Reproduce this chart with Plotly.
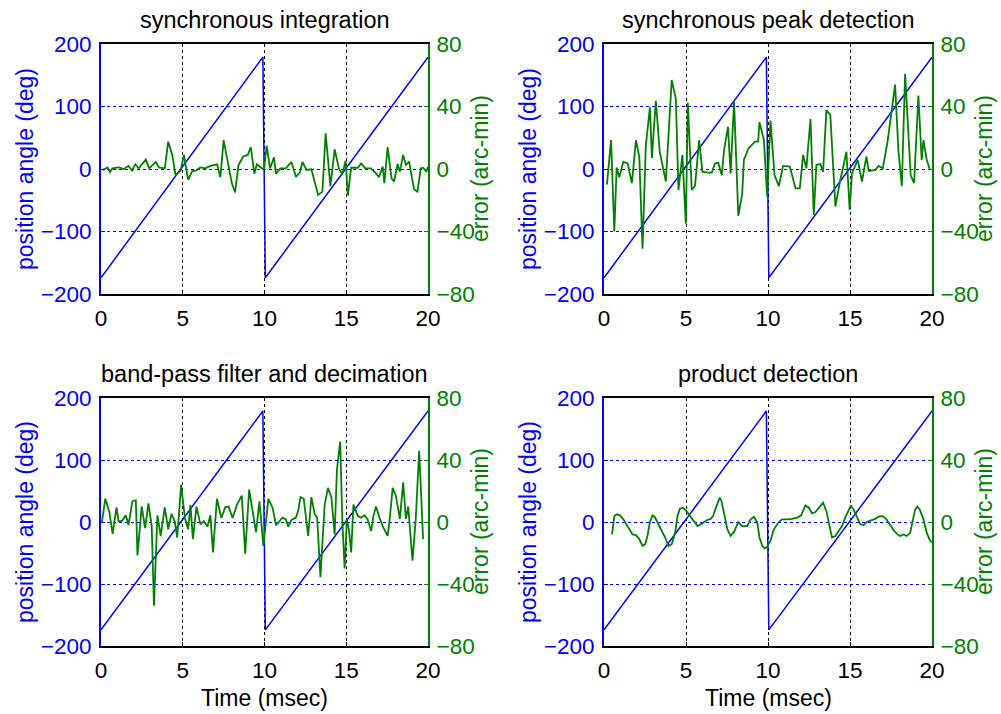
import plotly.graph_objects as go

W, H = 1001, 714
FONT = "Liberation Sans, Arial, sans-serif"
BLUE = "#0000FF"
GREEN = "#008000"

titles = ["synchronous integration", "synchronous peak detection",
          "band-pass filter and decimation", "product detection"]

# position angle (deg): sawtooth ramp
t_angle = [0, 9.9, 10.05, 20]
angle = [-174, 179, -174, 179]

# error (arc-min) - synchronous integration
t1 = [0.1, 0.4, 0.55, 0.7, 1.1, 1.4, 1.68, 1.9, 2.1, 2.3, 2.74, 2.95, 3.35, 3.55, 3.9, 4.11, 4.36, 4.56, 4.87,
      5.07, 5.33, 5.58, 5.8, 6.08, 6.38, 6.69, 7.1, 7.3, 7.5, 7.76, 8.0, 8.2, 8.41, 8.7, 8.98, 9.16, 9.38, 9.53,
      9.83, 9.97, 10.13, 10.34, 10.58, 10.7, 10.98, 11.3, 11.65, 11.92, 12.16, 12.32, 12.57, 12.87, 13.28, 13.54,
      13.74, 14.03, 14.29, 14.55, 14.76, 14.96, 15.1, 15.3, 15.71, 15.91, 16.17, 16.5, 16.82, 17.0, 17.23, 17.33,
      17.53, 17.77, 17.93, 18.14, 18.28, 18.48, 18.65, 18.85, 18.95, 19.15, 19.35, 19.56, 19.7, 19.9, 20.0]
e1 = [-0.6, 1, -2, 0.4, 1, 0, 2, -1, 3, 0.4, 6, 0.4, 4.5, 1, 0.4, 17.5, 9, -4, -1,
      9, -7, -1.3, -1, 1, 0.4, 2, 3, -5.3, 18.5, 3.6, -9, -15, 2.5, 8, 9, 14, -3, 3,
      0.4, -0.6, 15, 0.4, 7.5, -3, 0.4, 0.4, 4.5, -5, -2.3, 4.5, -0.6, -0.2, -16.6, -14.5,
      22.8, -11, 12.6, 0.4, -3.4, 5.3, -17, 0.8, 0.8, 3.6, 0.4, 0.4, -2.8, -5.3, 1.5, -9,
      14, -6, -8, 3.2, -1.7, 9, 2.6, 4.7, -1.7, -13, -14.5, 0.4, 0.8, -1.7, 1.5]

# error (arc-min) - synchronous peak detection
t2 = [0.18, 0.43, 0.63, 0.77, 0.93, 1.18, 1.44, 1.7, 1.95, 2.15, 2.35, 2.55, 2.8, 2.92, 3.16, 3.4, 3.77, 4.13,
      4.38, 4.54, 4.78, 4.99, 5.11, 5.35, 5.55, 5.8, 6.0, 6.3, 6.57, 6.77, 6.97, 7.18, 7.32, 7.56, 7.72, 7.93,
      8.19, 8.43, 8.53, 8.8, 9.2, 9.4, 9.48, 9.65, 9.75, 9.95, 10.15, 10.4, 10.66, 10.92, 11.33, 11.68, 11.94,
      12.14, 12.34, 12.59, 12.79, 12.95, 13.19, 13.36, 13.56, 13.8, 14.11, 14.41, 14.78, 14.98, 15.12, 15.47,
      15.73, 16.0, 16.14, 16.54, 16.74, 17.0, 17.29, 17.75, 17.95, 18.16, 18.36, 18.7, 18.91, 19.17, 19.37,
      19.48, 19.68, 19.88]
e2 = [-10, 18.5, -40, 1, -5.3, 4.7, 3.6, -9, 18.5, 8, -51, 15, 39.5, 7, 43.7, 11, -8, 57,
      45, -13.4, 9, -35, 42.4, -13.4, -10.7, 18.5, -1.7, -2.3, -2.3, 3.6, 4, -4, 12, 27, -2.8, 43,
      -30, -15.6, 5.8, 13, 17.5, 17.5, 30, 23, 18.5, -17.7, 31, -4, -11, 2, 1.5, -12.4, -12.4,
      9, 0.4, 32, -29.4, 2.6, 3.2, -1.7, 37.7, 34.5, -24, -7, 11, -26, -2.8, 5.8,
      -8, 8, -1.3, -0.6, 2, 0.4, 17.5, 54, 12, -11, 61, -4, -9, 47, 5.8,
      18.5, 5.8, -0.6]

# error (arc-min) - band-pass filter and decimation
t3 = [0.06, 0.26, 0.5, 0.71, 0.95, 1.07, 1.27, 1.52, 1.68, 1.92, 2.13, 2.23, 2.49, 2.7, 2.9, 3.1, 3.24, 3.45,
      3.65, 3.9, 4.11, 4.32, 4.52, 4.66, 4.9, 5.13, 5.33, 5.47, 5.62, 5.84, 6.08, 6.29, 6.5, 6.69, 6.85, 7.09,
      7.36, 7.6, 7.8, 8.05, 8.31, 8.61, 8.82, 9.06, 9.26, 9.48, 9.69, 9.93, 10.24, 10.5, 10.7, 10.9, 11.11,
      11.31, 11.45, 11.65, 11.92, 12.06, 12.2, 12.4, 12.67, 12.87, 13.07, 13.22, 13.42, 13.68, 13.88, 14.09,
      14.29, 14.43, 14.63, 14.76, 14.9, 15.04, 15.16, 15.3, 15.44, 15.71, 15.91, 16.11, 16.31, 16.52, 16.66,
      16.82, 17.03, 17.27, 17.53, 17.64, 17.84, 18.04, 18.28, 18.48, 18.65, 18.79, 19.05, 19.25, 19.46, 19.7]
e3 = [0, 15, 7, -7.7, 9.4, 0.6, 0.6, 4.3, -2, 13.4, 14, -21.5, 10, -4, 12, -2.6, -54, 4.3,
      -9, 9.4, -4.7, 5.3, 0, -10, 24, 2.6, -4.7, 11, -11, 10, -1.5, 0.6, -3, 4.3, -19.6, 15,
      2.6, 9.6, 10, 2.6, 11, 17, -20.5, 21, 8, -6.6, 13.4, -15.4, 15, 9, -2, 0.6, 2.8,
      1.7, -3, 1.3, 2.8, 7, 16, 15, -9, 16, 5, 2.8, -35.6, 11.3, 22, 16,
      -8, 33.7, 52, 0.6, -30, 1.7, -4.7, -19.6, 11.3, 3.8, 2.8, 4.3, 1.7, -5.8, 3.8,
      10, 2.8, -3.6, -9, 0, 22, 16.6, 2, 25.6, 2, 10, -25, 1.7, 46, -11]

# error (arc-min) - product detection
t4 = [0.49, 0.63, 0.77, 0.97, 1.18, 1.38, 1.54, 1.74, 1.95, 2.15, 2.35, 2.51, 2.65, 2.8, 2.96, 3.12, 3.32, 3.53,
      3.73, 3.93, 4.13, 4.34, 4.48, 4.62, 4.82, 5.03, 5.23, 5.43, 5.7, 5.9, 6.1, 6.3, 6.5, 6.65, 6.85, 7.05,
      7.17, 7.32, 7.52, 7.72, 7.93, 8.19, 8.43, 8.73, 8.94, 9.14, 9.34, 9.48, 9.65, 9.8, 9.95, 10.15, 10.36,
      10.66, 10.86, 11.17, 11.47, 11.78, 12.02, 12.28, 12.49, 12.69, 12.89, 13.15, 13.36, 13.56, 13.76, 13.9,
      14.11, 14.31, 14.51, 14.71, 14.92, 15.06, 15.22, 15.42, 15.63, 15.83, 16.03, 16.27, 16.54, 16.74, 17.0,
      17.2, 17.45, 17.69, 17.9, 18.06, 18.26, 18.46, 18.67, 18.83, 18.97, 19.11, 19.27, 19.48, 19.68, 19.88,
      20.0]
e4 = [-8, 3.8, 5, 4.3, 1.7, -1.5, -4.7, -8, -8.5, -11, -15.4, -14.3, -9, 0, 4.3, 2.8, -1.5, -5.8,
      -10, -15.4, -14.3, -6.8, 3.8, 8.5, 9.2, 7, 4.3, 1.7, -2.6, -1.5, 0, 1.3, 2, 3.8, 10, 15.6,
      13.4, 6, -4.7, -9, -6.4, 0, -2.6, -2.6, 1.7, 3.4, 0, -10, -15.4, -17, -16, -12, -4.7,
      0, 1.7, 1.7, 2, 2.8, 4.3, 10.7, 9.2, 5.5, 6.4, 9.8, 12.4, 7, -3.6, -10,
      -9, -5.8, -2.6, 2.8, 8, 10.7, 8, 2.8, -1.5, -2, 0, 1, 2, 3.4, 3.8,
      2, -2, -5.8, -8, -9, -8, -9, -7, 0.6, 8, 10, 7.7, 1.7, -7, -12,
      -13]

errors = [(t1, e1), (t2, e2), (t3, e3), (t4, e4)]

# pixel layout of the four panels (left, right, top, bottom)
panels = [(101, 428, 44, 294), (604, 932, 44, 294), (101, 428, 398, 646), (604, 932, 398, 646)]

fig = go.Figure()
annotations = []
layout = {}
for i, ((l, r, tp, bt), (te, ee)) in enumerate(zip(panels, errors)):
    xa = "x" if i == 0 else f"x{i + 1}"
    ya = "y" if i == 0 else f"y{2 * i + 1}"
    ya2 = f"y{2 * i + 2}"
    xdom = [l / W, r / W]
    ydom = [1 - bt / H, 1 - tp / H]
    fig.add_trace(go.Scatter(x=t_angle, y=angle, mode="lines", line=dict(color=BLUE, width=1.5),
                             xaxis=xa, yaxis=ya, showlegend=False, hoverinfo="skip"))
    fig.add_trace(go.Scatter(x=te, y=ee, mode="lines", line=dict(color=GREEN, width=1.8),
                             xaxis=xa, yaxis=ya2, showlegend=False, hoverinfo="skip"))
    xkey = "xaxis" if i == 0 else f"xaxis{i + 1}"
    ykey = "yaxis" if i == 0 else f"yaxis{2 * i + 1}"
    y2key = f"yaxis{2 * i + 2}"
    layout[xkey] = dict(domain=xdom, anchor=ya, range=[0, 20], tickvals=[0, 5, 10, 15, 20],
                        showline=True, linecolor="black", linewidth=2, mirror=True,
                        ticks="inside", ticklen=4, tickcolor="black", automargin=False,
                        ticklabelstandoff=3,
                        showgrid=True, gridcolor="black", griddash="dot", gridwidth=1,
                        zeroline=False, tickfont=dict(size=22.5, color="black", family=FONT))
    layout[ykey] = dict(domain=ydom, anchor=xa, range=[-200, 200], tickvals=[-200, -100, 0, 100, 200],
                        showline=True, linecolor=BLUE, linewidth=2, side="left",
                        ticks="inside", ticklen=4, tickcolor=BLUE, automargin=False,
                        ticklabelstandoff=3,
                        showgrid=True, gridcolor=BLUE, griddash="dot", gridwidth=1, zeroline=False,
                        tickfont=dict(size=22.5, color=BLUE, family=FONT))
    layout[y2key] = dict(domain=ydom, anchor=xa, overlaying=ya, side="right", range=[-80, 80],
                         tickvals=[-80, -40, 0, 40, 80], showline=True, linecolor=GREEN, linewidth=2,
                         ticks="inside", ticklen=4, tickcolor=GREEN, showgrid=False, zeroline=False,
                         automargin=False, ticklabelstandoff=2,
                         tickfont=dict(size=22.5, color=GREEN, family=FONT))
    cx = (l + r) / 2 / W
    annotations.append(dict(text=titles[i], x=cx, y=1 - (tp - 24) / H, xref="paper", yref="paper",
                            xanchor="center", yanchor="middle", showarrow=False,
                            font=dict(size=23.5, color="black", family=FONT)))
    cy = 1 - (tp + bt) / 2 / H
    annotations.append(dict(text="position angle (deg)", x=(l - 76) / W, y=cy, xref="paper", yref="paper",
                            xanchor="center", yanchor="middle", showarrow=False, textangle=-90,
                            font=dict(size=23, color=BLUE, family=FONT)))
    annotations.append(dict(text="error (arc-min)", x=(r + 52) / W, y=cy, xref="paper", yref="paper",
                            xanchor="center", yanchor="middle", showarrow=False, textangle=-90,
                            font=dict(size=23, color=GREEN, family=FONT)))
    if i >= 2:
        annotations.append(dict(text="Time (msec)", x=cx, y=1 - (bt + 52) / H, xref="paper", yref="paper",
                                xanchor="center", yanchor="middle", showarrow=False,
                                font=dict(size=23, color="black", family=FONT)))

fig.update_layout(**layout)
fig.update_layout(width=W, height=H, margin=dict(l=0, r=0, t=0, b=0, autoexpand=False),
                  paper_bgcolor="white", plot_bgcolor="white", annotations=annotations,
                  font=dict(family=FONT))
fig.write_html("out.html")
